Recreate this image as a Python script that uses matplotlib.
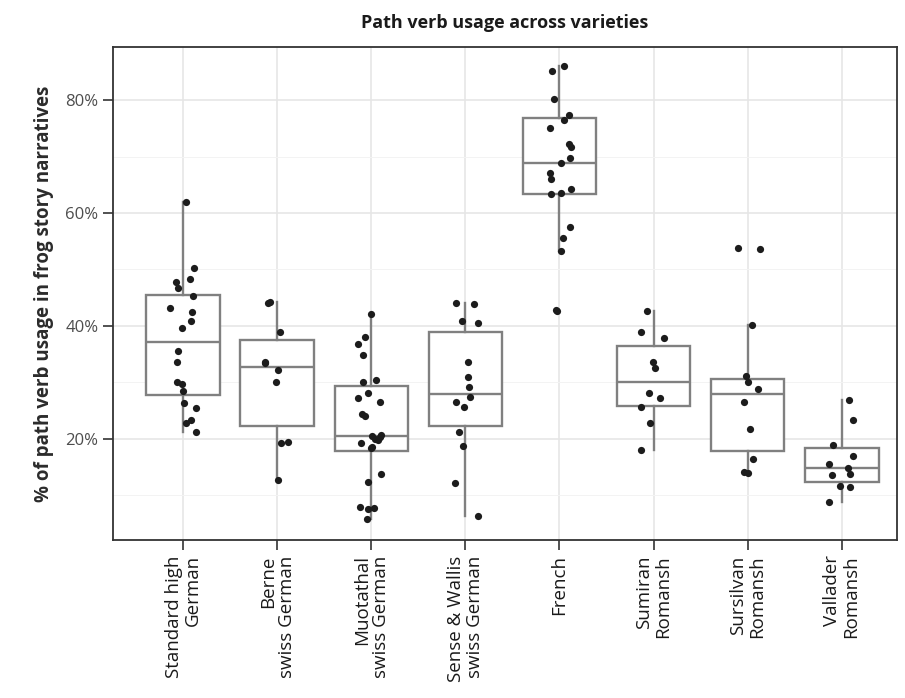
import numpy as np
import matplotlib
matplotlib.use("Agg")
import matplotlib.pyplot as plt
from matplotlib.ticker import FixedLocator, PercentFormatter

plt.rcParams['font.family'] = ['Open Sans', 'DejaVu Sans']

varieties = ["Standard high\nGerman", "Berne\nswiss German", "Muotathal\nswiss German",
             "Sense & Wallis\nswiss German", "French", "Sumiran\nRomansh",
             "Sursilvan\nRomansh", "Vallader\nRomansh"]

# % path verbs per narrative
standard_high_german = [61.9, 50.3, 48.4, 47.7, 46.7, 45.3, 43.1, 42.4, 40.8, 39.6,
                        35.5, 33.6, 30.1, 29.8, 28.5, 26.4, 25.5, 23.4, 22.9, 21.2]
berne = [44.3, 44.0, 38.9, 33.7, 33.4, 32.2, 30.0, 19.5, 19.2, 12.7]
muotathal = [42.1, 38.1, 36.8, 34.9, 30.4, 30.0, 28.2, 27.2, 26.6, 24.4, 24.1, 20.7, 20.6,
             20.3, 19.9, 19.8, 19.2, 18.6, 18.3, 13.8, 12.4, 7.7, 8.0, 7.6, 5.8]
sense_wallis = [44.1, 43.9, 40.8, 40.6, 33.7, 31.0, 29.1, 27.4, 26.6, 25.6, 21.3, 18.8, 12.2, 6.4]
french = [85.2, 86.0, 80.2, 77.3, 76.5, 75.0, 72.2, 71.6, 69.7, 68.9, 67.0, 66.0, 64.2,
          63.6, 63.4, 57.5, 55.6, 53.2, 42.8, 42.6]
sumiran = [42.7, 39.0, 37.9, 33.7, 32.6, 28.2, 27.3, 25.7, 22.8, 18.1]
sursilvan = [53.8, 53.7, 40.2, 31.2, 30.0, 28.8, 26.5, 21.8, 16.5, 14.2, 13.9]
vallader = [26.9, 23.4, 18.9, 16.9, 15.5, 14.8, 13.8, 13.6, 11.7, 11.5, 8.9]

groups = [standard_high_german, berne, muotathal, sense_wallis,
          french, sumiran, sursilvan, vallader]

# box summaries as drawn
box_q1 = [27.8, 22.2, 17.9, 22.2, 63.4, 25.8, 17.9, 12.3]
box_med = [37.1, 32.7, 20.5, 28.0, 68.9, 30.0, 27.9, 14.8]
box_q3 = [45.5, 37.5, 29.4, 39.0, 76.8, 36.5, 30.6, 18.4]
whisker_lo = [21.2, 12.7, 5.8, 6.4, 53.2, 18.1, 13.9, 8.9]
whisker_hi = [61.9, 44.3, 42.1, 44.1, 86.0, 42.7, 40.2, 26.9]

positions = np.arange(1, len(varieties) + 1)

fig = plt.figure(figsize=(9.05, 6.98), dpi=100)
ax = fig.add_axes([0.1249, 0.2264, 0.991 - 0.1249, 0.9327 - 0.2264])

stats = []
for i in range(len(varieties)):
    stats.append(dict(med=box_med[i], q1=box_q1[i], q3=box_q3[i],
                      whislo=whisker_lo[i], whishi=whisker_hi[i], fliers=[]))

ax.bxp(stats, positions=positions, widths=0.78, showcaps=False, patch_artist=True,
       boxprops=dict(facecolor="white", edgecolor="#808080", linewidth=1.7),
       medianprops=dict(color="#808080", linewidth=1.7),
       whiskerprops=dict(color="#808080", linewidth=1.7), zorder=2)

rng = np.random.default_rng(7)
for pos, vals in zip(positions, groups):
    jitter = rng.uniform(-0.14, 0.14, len(vals))
    ax.scatter(pos + jitter, vals, s=27, color="#1c1c1c", zorder=3, linewidths=0)

ax.set_xlim(0.256, 8.585)
ax.set_ylim(2.1, 89.4)
ax.set_xticks(positions)
ax.set_xticklabels(varieties, rotation=90, multialignment="right", fontsize=13.5,
                   color="#1a1a1a", linespacing=1.05)
ax.yaxis.set_major_locator(FixedLocator([20, 40, 60, 80]))
ax.yaxis.set_minor_locator(FixedLocator([10, 30, 50, 70]))
ax.yaxis.set_major_formatter(PercentFormatter(xmax=100, decimals=0))
ax.tick_params(axis="y", which="major", labelsize=12, labelcolor="#4d4d4d",
               length=7, width=1.2, color="#333333")
ax.tick_params(axis="y", which="minor", length=0)
ax.tick_params(axis="x", length=7, width=1.2, color="#333333", pad=4)

ax.grid(True, which="major", color="#e6e6e6", linewidth=1.2, zorder=0)
ax.grid(True, which="minor", axis="y", color="#f3f3f3", linewidth=0.7, zorder=0)
ax.set_axisbelow(True)
for sp in ax.spines.values():
    sp.set_color("#333333")
    sp.set_linewidth(1.3)

ax.set_ylabel("% of path verb usage in frog story narratives", fontsize=13.5,
              fontweight="bold", color="#2b2b2b", labelpad=8)
ax.set_title("Path verb usage across varieties", fontsize=13, fontweight="bold",
             color="#1a1a1a", pad=14)

fig.savefig("out.png", dpi=100)
